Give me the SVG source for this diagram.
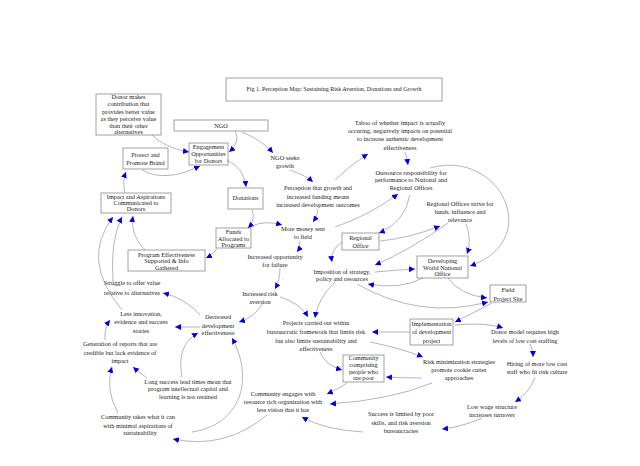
<svg xmlns="http://www.w3.org/2000/svg" width="640" height="466" viewBox="0 0 640 466">
<style>
text{font-family:"Liberation Serif","Times New Roman",serif;font-size:6.3px;fill:#222;text-anchor:middle}
.t{font-size:6px}
rect{fill:#fff;stroke:#8a8a8a;stroke-width:0.8}
.e path{fill:none;stroke:#8080a8;stroke-width:0.6;marker-end:url(#ah)}
</style>
<defs>
<marker id="ah" markerUnits="userSpaceOnUse" markerWidth="8" markerHeight="8" refX="6" refY="3" orient="auto">
<path d="M0,0 L6,3 L0,6 z" fill="#0000dd"/>
</marker>
</defs>
<rect width="640" height="466" style="fill:#fff;stroke:none"/>
<g id="title"><rect x="226" y="78" width="216" height="23"/><text class="t" x="334" y="91">Fig 1. Perception Map: Sustaining Risk Aversion, Donations and Growth</text></g>
<g id="donor"><rect x="96" y="94" width="65" height="41"/><text x="128.5" y="99">Donor makes</text><text x="128.5" y="106">contribution that</text><text x="128.5" y="113.5">provides better value</text><text x="128.5" y="120.5">as they perceive value</text><text x="128.5" y="127.5">than their other</text><text x="128.5" y="134">alternatives</text></g>
<g id="ngo"><rect x="174" y="120" width="94" height="11"/><text x="221" y="127.5">NGO</text></g>
<g id="engagement"><rect x="189" y="143" width="39" height="22"/><text x="208.5" y="149">Engagement</text><text x="208.5" y="156">Opportunities</text><text x="208.5" y="163">for Donors</text></g>
<g id="protect"><rect x="123" y="148" width="45" height="21"/><text x="145.5" y="157">Protect and</text><text x="145.5" y="165">Promote Brand</text></g>
<g id="donations"><rect x="228" y="188" width="35" height="21"/><text x="245.5" y="200">Donations</text></g>
<g id="ngoseeks"><text x="285" y="160">NGO seeks</text><text x="285" y="168">growth</text></g>
<g id="taboo"><text x="400" y="125">Taboo of whether impact is actually</text><text x="400" y="133">occuring, negatively impacts on potential</text><text x="400" y="141">to increase authentic development</text><text x="400" y="150">effectiveness</text></g>
<g id="outsource"><text x="411" y="175">Oursource responsibility for</text><text x="411" y="182">performance to National and</text><text x="411" y="190">Regional Offices</text></g>
<g id="perception"><text x="318" y="190">Perception that growth and</text><text x="318" y="199">increased funding means</text><text x="318" y="207">increased development outcomes</text></g>
<g id="moremoney"><text x="303" y="231">More money sent</text><text x="303" y="239">to field</text></g>
<g id="funds"><rect x="216" y="228" width="35" height="20"/><text x="233.5" y="234">Funds</text><text x="233.5" y="241">Allocated to</text><text x="233.5" y="247">Programs</text></g>
<g id="regionaloffice"><rect x="342" y="233" width="37" height="17"/><text x="360.5" y="240">Regional</text><text x="360.5" y="248">Office</text></g>
<g id="strive"><text x="460" y="206">Regional Offices strive for</text><text x="460" y="214">funds, influence and</text><text x="460" y="222">relevance</text></g>
<g id="developing"><rect x="417" y="256" width="51" height="22"/><text x="442.5" y="263">Developing</text><text x="442.5" y="270">World National</text><text x="442.5" y="276">Office</text></g>
<g id="imposition"><text x="342" y="274">Imposition of strategy,</text><text x="342" y="281">policy and resources</text></g>
<g id="field"><rect x="490" y="285" width="36" height="17"/><text x="508" y="292">Field</text><text x="508" y="301">Project Site</text></g>
<g id="implementation"><rect x="410" y="319" width="43" height="26"/><text x="431.5" y="326">Implementation</text><text x="431.5" y="334">of development</text><text x="431.5" y="343">project</text></g>
<g id="donormodel"><text x="525" y="334">Donor model requires high</text><text x="525" y="343">levels of low cost staffing</text></g>
<g id="hiring"><text x="537" y="366">Hiring of more low cost</text><text x="537" y="374">staff who fit risk culture</text></g>
<g id="riskmin"><text x="459" y="364">Risk minimization strategies</text><text x="459" y="372">promote cookie cutter</text><text x="459" y="380">approaches</text></g>
<g id="lowwage"><text x="492" y="409">Low wage structure</text><text x="492" y="417">increases turnover</text></g>
<g id="success"><text x="401" y="416">Success is limited by poor</text><text x="401" y="425">skills, and risk aversion</text><text x="401" y="433">bureaucracies</text></g>
<g id="projects"><text x="316" y="325">Projects carried out within</text><text x="316" y="334">bureaucratic framework that limits risk</text><text x="316" y="343">but also limits sustainability and</text><text x="316" y="351">effectiveness</text></g>
<g id="comprising"><rect x="343" y="355" width="41" height="27"/><text x="363.5" y="360">Community</text><text x="363.5" y="367">comprising</text><text x="363.5" y="374">people who</text><text x="363.5" y="380">are poor</text></g>
<g id="engages"><text x="283" y="396">Community engages with</text><text x="283" y="404">resource rich organization with</text><text x="283" y="412">less vision that it has</text></g>
<g id="risk"><text x="260" y="296">Increased risk</text><text x="260" y="304">aversion</text></g>
<g id="opportunity"><text x="275" y="259">Increased opportunity</text><text x="275" y="267">for failure</text></g>
<g id="impact"><rect x="101" y="193" width="70" height="20"/><text x="136" y="199">Impact and Aspirations</text><text x="136" y="205">Communicated to</text><text x="136" y="211">Donors</text></g>
<g id="progeff"><rect x="128" y="250" width="77" height="21"/><text x="166.5" y="257">Program Effectiveness</text><text x="166.5" y="263">Supported &amp; Info</text><text x="166.5" y="270">Gathered</text></g>
<g id="struggle"><text x="132" y="285">Struggle to offer value</text><text x="132" y="295">relative to alternatives</text></g>
<g id="decreased"><text x="218" y="319">Decreased</text><text x="218" y="328">development</text><text x="218" y="335">effectiveness</text></g>
<g id="lessinnov"><text x="141" y="316">Less innovation,</text><text x="141" y="324">evidence and success</text><text x="141" y="333">stories</text></g>
<g id="generation"><text x="120" y="346">Generation of reports that are</text><text x="120" y="355">credible but lack evidence of</text><text x="120" y="363">impact</text></g>
<g id="longsuccess"><text x="188" y="384">Long success lead times mean that</text><text x="188" y="391">program intellectual capital and</text><text x="188" y="399">learning is not retained</text></g>
<g id="commtakes"><text x="138" y="419">Community takes what it can</text><text x="138" y="428">with minimal aspirations of</text><text x="140" y="435">sustainability</text></g>
<g class="e" id="connectors">
<path d="M152,135 Q165,148 189,152"/>
<path d="M235,131 Q241,142 229,152"/>
<path d="M142,170 Q165,183 200,166"/>
<path d="M227,160 Q244,168 246,187"/>
<path d="M242,132 Q262,140 273,153"/>
<path d="M290,170 Q305,175 313,182"/>
<path d="M335,180 Q350,165 368,154"/>
<path d="M405,152 Q407,158 408,165"/>
<path d="M252,210 Q256,220 248,228"/>
<path d="M252,226 Q265,220 282,225"/>
<path d="M318,209 Q318,215 313,222"/>
<path d="M335,227 Q370,215 398,194"/>
<path d="M410,195 Q405,222 379,233"/>
<path d="M430,168 C500,148 545,240 470,266"/>
<path d="M380,241 Q410,238 440,226"/>
<path d="M466,224 Q472,240 467,254"/>
<path d="M448,223 Q410,250 375,265"/>
<path d="M342,242 Q330,250 332,262"/>
<path d="M375,272 Q395,270 415,269"/>
<path d="M423,278 Q400,290 368,284"/>
<path d="M448,278 Q460,295 487,298"/>
<path d="M357,284 Q420,320 488,302"/>
<path d="M492,303 Q475,312 455,322"/>
<path d="M455,325 Q485,322 503,328"/>
<path d="M530,344 Q533,350 533,357"/>
<path d="M535,377 Q530,392 515,402"/>
<path d="M482,418 Q462,427 442,429"/>
<path d="M363,432 Q325,430 302,417"/>
<path d="M347,383 Q340,388 327,394"/>
<path d="M432,383 Q390,400 330,404"/>
<path d="M370,342 Q400,348 423,357"/>
<path d="M422,378 Q405,378 386,377"/>
<path d="M410,332 L372,332"/>
<path d="M320,352 Q325,365 342,370"/>
<path d="M335,282 Q318,298 315,318"/>
<path d="M280,297 Q300,303 308,317"/>
<path d="M280,268 Q280,280 275,289"/>
<path d="M300,241 Q300,248 297,252"/>
<path d="M217,249 Q212,255 206,258"/>
<path d="M263,303 Q255,317 239,322"/>
<path d="M200,327 L175,327"/>
<path d="M200,315 Q185,298 163,293"/>
<path d="M105,340 Q104,328 110,320"/>
<path d="M147,378 Q140,373 133,367"/>
<path d="M182,377 Q176,345 198,333"/>
<path d="M118,413 Q105,390 112,367"/>
<path d="M192,432 C240,425 255,380 232,338"/>
<path d="M267,415 Q225,450 173,439"/>
<path d="M145,250 Q130,235 133,216"/>
<path d="M113,282 Q110,240 122,217"/>
<path d="M122,310 Q80,260 113,217"/>
<path d="M125,193 Q122,182 126,172"/>
</g>
</svg>
